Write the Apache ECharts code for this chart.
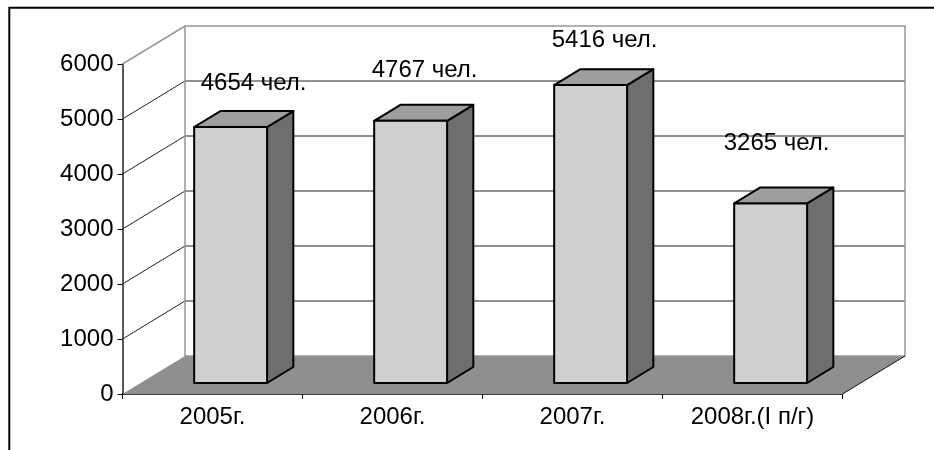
<!DOCTYPE html>
<html><head><meta charset="utf-8">
<style>html,body{margin:0;padding:0;background:#fff}#c{width:934px;height:450px}</style>
<script src="https://cdn.jsdelivr.net/npm/echarts@6/dist/echarts.min.js"></script>
</head><body><div id="c"></div>
<script>
const categories = ['2005г.', '2006г.', '2007г.', '2008г.(I п/г)'];
const values = [4654, 4767, 5416, 3265];
const unit = ' чел.';
const yMax = 6000, yStep = 1000;

// oblique projection of the 3D look
const DEPTH = {dx: 62.5, dy: -38};
const BAR = {start: 0.29, end: 0.71, widthRatio: 0.405};
const labelNudge = [[23, -44], [14, -50], [14, -45], [6, -60]];
const FONT = 'Liberation Sans, Arial, sans-serif';
const FS = 24;

function cornerCoords(api) {
  const x0 = api.coord([0, 0])[0] - api.size([1, 0])[0] / 2;
  const w = api.size([1, 0])[0] * categories.length;
  return {x0, x1: x0 + w};
}
function renderWalls(params, api) {
  const {x0, x1} = cornerCoords(api);
  const y = v => api.coord([0, v])[1];
  const d = DEPTH;
  const kids = [];
  kids.push({type: 'polygon', shape: {points: [[x0, y(0)], [x1, y(0)], [x1 + d.dx, y(0) + d.dy], [x0 + d.dx, y(0) + d.dy]]},
    style: {fill: '#8f8f8f', stroke: 'none'}});
  for (let v = yStep; v < yMax; v += yStep) {
    kids.push({type: 'polyline', shape: {points: [[x0, y(v)], [x0 + d.dx, y(v) + d.dy], [x1 + d.dx, y(v) + d.dy]]},
      style: {fill: 'none', stroke: '#222', lineWidth: 1}});
  }
  kids.push({type: 'polyline', shape: {points: [[x0, y(yMax)], [x0 + d.dx, y(yMax) + d.dy], [x1 + d.dx, y(yMax) + d.dy], [x1 + d.dx, y(0) + d.dy], [x0 + d.dx, y(0) + d.dy], [x0 + d.dx, y(yMax) + d.dy]]},
    style: {fill: 'none', stroke: '#969696', lineWidth: 1.5}});
  kids.push({type: 'polyline', shape: {points: [[x1, y(0)], [x1 + d.dx, y(0) + d.dy]]},
    style: {fill: 'none', stroke: '#111', lineWidth: 1}});
  return {type: 'group', children: kids};
}
function renderBar(params, api) {
  const i = api.value(0), v = api.value(1);
  const c = api.coord([i, 0]);
  const top = api.coord([i, v])[1];
  const bw = api.size([1, 0])[0] * BAR.widthRatio;
  const d = DEPTH;
  const ox = d.dx * BAR.start, oy = d.dy * BAR.start;
  const sx = d.dx * (BAR.end - BAR.start), sy = d.dy * (BAR.end - BAR.start);
  const l = c[0] - bw / 2 + ox, r = c[0] + bw / 2 + ox, b = c[1] + oy, t = top + oy;
  const line = {stroke: '#000', lineWidth: 2, lineJoin: 'round'};
  const n = labelNudge[params.dataIndex];
  return {type: 'group', children: [
    {type: 'polygon', shape: {points: [[r, b], [r + sx, b + sy], [r + sx, t + sy], [r, t]]}, style: {fill: '#6e6e6e', ...line}},
    {type: 'polygon', shape: {points: [[l, t], [r, t], [r + sx, t + sy], [l + sx, t + sy]]}, style: {fill: '#9e9e9e', ...line}},
    {type: 'rect', shape: {x: l, y: t, width: r - l, height: b - t}, style: {fill: '#cfcfcf', ...line}},
    {type: 'text', x: (l + r) / 2 + n[0], y: t + n[1], style: {text: v + unit, fill: '#000', font: FS + 'px ' + FONT, align: 'center', verticalAlign: 'middle'}}
  ]};
}
const chart = echarts.init(document.getElementById('c'), null, {renderer: 'canvas'});
chart.setOption({
  animation: false,
  backgroundColor: '#fff',
  grid: {left: 122.5, top: 64, width: 720, height: 330},
  xAxis: {type: 'category', data: categories,
    axisLine: {lineStyle: {color: '#000', width: 1.5}},
    axisTick: {show: true, alignWithLabel: false, length: 5, lineStyle: {color: '#000'}},
    axisLabel: {color: '#000', fontFamily: FONT, fontSize: FS, margin: 11, interval: 0}},
  yAxis: {type: 'value', min: 0, max: yMax, interval: yStep,
    splitLine: {show: false},
    axisLine: {show: true, lineStyle: {color: '#222', width: 1.5}},
    axisTick: {show: true, length: 5, lineStyle: {color: '#000'}},
    axisLabel: {color: '#000', fontFamily: FONT, fontSize: FS, margin: 9, formatter: v => String(v)}},
  graphic: [{type: 'polyline', silent: true, z: 100, shape: {points: [[9.3, 450], [9.3, 7.7], [934, 7.7]]}, style: {fill: 'none', stroke: '#000', lineWidth: 2}}],
  series: [
    {type: 'custom', renderItem: renderWalls, data: [[0, 0]], z: 1, silent: true, clip: false},
    {type: 'custom', renderItem: renderBar, data: values.map((v, i) => [i, v]), z: 2, clip: false, encode: {x: 0, y: 1}}
  ]
});
</script></body></html>
